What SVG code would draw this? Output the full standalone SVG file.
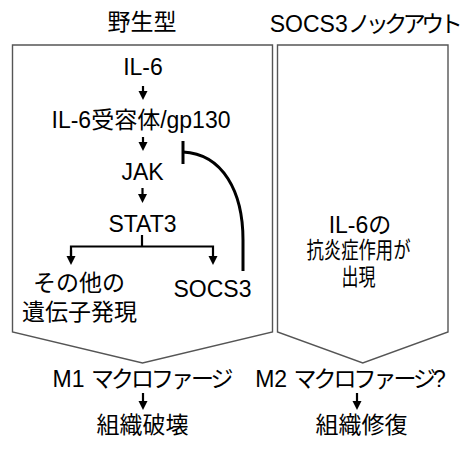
<svg xmlns="http://www.w3.org/2000/svg" width="460" height="450" viewBox="0 0 460 450">
<defs>
<style>
text{font-family:"Liberation Sans","Noto Sans CJK JP",sans-serif;font-size:23px;fill:#000;text-anchor:middle}
.box{fill:#fff;stroke:#555;stroke-width:1.4}
.arr{stroke:#000;stroke-width:2.2;fill:none}
.inh{stroke:#000;stroke-width:3;fill:none}
.kana{letter-spacing:-3px}
</style>
<marker id="ah" markerUnits="userSpaceOnUse" markerWidth="10" markerHeight="10" refX="2" refY="4.5" orient="auto">
<path d="M0,0 L9,4.5 L0,9 z" fill="#000"/>
</marker>
</defs>
<rect width="460" height="450" fill="#fff"/>
<g id="wildtype-box"><polygon class="box" points="12.5,45 272.5,45 272.5,332 142.5,363 12.5,332"/></g>
<g id="knockout-box"><polygon class="box" points="277.5,45 448,45 448,332 362.75,363 277.5,332"/></g>
<g id="title-wt"><text x="142" y="30">野生型</text></g>
<g id="title-ko"><text x="364" y="32">SOCS3<tspan class="kana" style="letter-spacing:-4.5px">ノックアウト</tspan></text></g>
<g id="il6"><text x="143" y="75">IL-6</text></g>
<g id="receptor"><text x="141" y="128">IL-6受容体/gp130</text></g>
<g id="jak"><text x="142.5" y="180">JAK</text></g>
<g id="stat3"><text x="142.5" y="232">STAT3</text></g>
<g id="other-genes"><text x="79" y="291">その他の</text><text x="79.5" y="320">遺伝子発現</text></g>
<g id="socs3"><text x="212.5" y="297">SOCS3</text></g>
<g id="ko-effect">
<text x="360" y="233">IL-6の</text>
<text x="358.5" y="258" textLength="104" lengthAdjust="spacingAndGlyphs">抗炎症作用が</text>
<text x="358.5" y="285" textLength="34" lengthAdjust="spacingAndGlyphs">出現</text>
</g>
<g id="m1"><text x="141.5" y="387">M1 <tspan class="kana">マクロファージ</tspan></text></g>
<g id="destroy"><text x="142.5" y="433">組織破壊</text></g>
<g id="m2"><text x="350.5" y="387">M2 <tspan class="kana">マクロファージ</tspan>?</text></g>
<g id="repair"><text x="361.5" y="433">組織修復</text></g>
<g id="connectors">
<line class="arr" x1="143" y1="86" x2="143" y2="93" marker-end="url(#ah)"/>
<line class="arr" x1="143" y1="137" x2="143" y2="144" marker-end="url(#ah)"/>
<line class="arr" x1="142.5" y1="188" x2="142.5" y2="196" marker-end="url(#ah)"/>
<polyline class="arr" points="142,235 142,246.5"/>
<polyline class="arr" points="71,258 71,246.5 213,246.5 213,258" marker-end="url(#ah)"/>
<line class="arr" x1="71" y1="250" x2="71" y2="258" marker-end="url(#ah)"/>
<path class="inh" d="M183,152 C223,154 243,192 243,240 L243,271"/>
<line class="inh" x1="183" y1="141" x2="183" y2="164"/>
<line class="arr" x1="143" y1="393" x2="143" y2="403" marker-end="url(#ah)"/>
<line class="arr" x1="357" y1="393" x2="357" y2="403" marker-end="url(#ah)"/>
</g>
</svg>
